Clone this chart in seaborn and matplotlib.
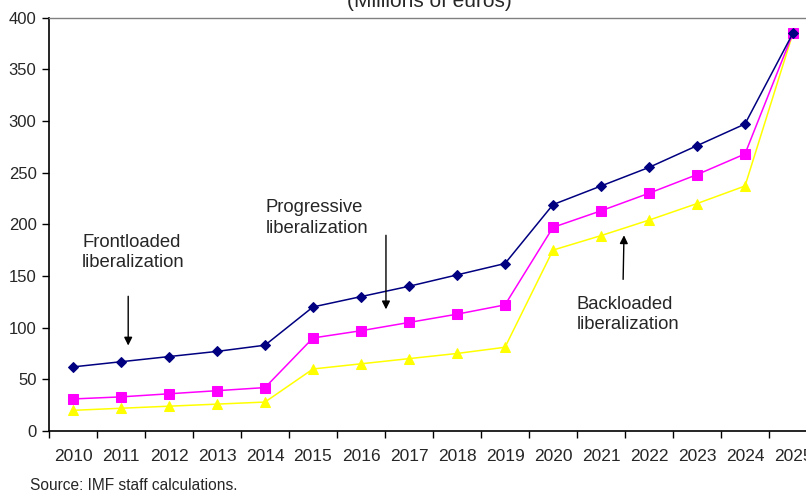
import pandas as pd
import matplotlib.pyplot as plt
import seaborn as sns

# data (millions of euros)
years = [str(y) for y in range(2010, 2026)]
frontloaded = [62, 67, 72, 77, 83, 120, 130, 140, 151, 162, 219, 237, 255, 276, 297, 385]
progressive = [31, 33, 36, 39, 42, 90, 97, 105, 113, 122, 197, 213, 230, 248, 268, 385]
backloaded = [20, 22, 24, 26, 28, 60, 65, 70, 75, 81, 175, 189, 204, 220, 237, 385]

sns.set_style('ticks')
plt.rcParams['font.family'] = ['Liberation Sans', 'DejaVu Sans']

df = pd.DataFrame({'year': years, 'idx': range(len(years)),
                   'Frontloaded': frontloaded, 'Progressive': progressive,
                   'Backloaded': backloaded})
long = df.melt(id_vars=['year', 'idx'], var_name='scenario', value_name='value')

fig = plt.figure(figsize=(8.06, 4.91), dpi=100)
ax = fig.add_axes([49 / 806, 1 - 431 / 491, 768 / 806, 413.5 / 491])

styles = {'Frontloaded': ('#000080', 'D', 5.0),
          'Progressive': ('#FF00FF', 's', 6.5),
          'Backloaded': ('#FFFF00', '^', 7.0)}
for name in ['Backloaded', 'Progressive', 'Frontloaded']:
    color, marker, ms = styles[name]
    sns.lineplot(data=long[long['scenario'] == name], x='idx', y='value', ax=ax,
                 color=color, marker=marker, markersize=ms, markeredgecolor=color,
                 linewidth=1.1, legend=False)

ax.set_xlim(-0.5, 15.5)
ax.set_ylim(0, 400)
ax.set_yticks(range(0, 401, 50))
ax.set_xticks(range(len(years)))
ax.set_xticklabels(years)
ax.set_xticks([i - 0.5 for i in range(len(years) + 1)], minor=True)
ax.tick_params(axis='x', which='major', length=0, pad=13, labelsize=12.5)
ax.tick_params(axis='x', which='minor', length=5, width=1, color='black')
ax.tick_params(axis='y', length=5, width=1, color='black', labelsize=12, pad=4)
ax.set_xlabel('')
ax.set_ylabel('')
for s in ['left', 'bottom']:
    ax.spines[s].set_color('black')
    ax.spines[s].set_linewidth(1.2)
ax.spines['top'].set_color('#808080')
ax.spines['top'].set_linewidth(1)
ax.spines['right'].set_visible(False)

# annotations
ax.text(0.19, 191, 'Frontloaded\nliberalization', fontsize=13.3, va='top', ha='left', linespacing=1.3)
ax.annotate('', xy=(1.15, 80), xytext=(1.15, 133),
            arrowprops=dict(arrowstyle='-|>', color='black', lw=1, mutation_scale=12))
ax.text(4.02, 224, 'Progressive\nliberalization', fontsize=13.3, va='top', ha='left', linespacing=1.3)
ax.annotate('', xy=(6.52, 115), xytext=(6.52, 192),
            arrowprops=dict(arrowstyle='-|>', color='black', lw=1, mutation_scale=12))
ax.text(10.5, 131, 'Backloaded\nliberalization', fontsize=13.3, va='top', ha='left', linespacing=1.3)
ax.annotate('', xy=(11.48, 192), xytext=(11.46, 144),
            arrowprops=dict(arrowstyle='-|>', color='black', lw=1, mutation_scale=12))

fig.text(429 / 806, 1 - 7 / 491, '(Millions of euros)', fontsize=15, ha='center', va='baseline')
fig.text(30 / 806, 1 - 485 / 491, 'Source: IMF staff calculations.', fontsize=11.2, ha='left', va='center')

fig.savefig('out.png', dpi=100)
